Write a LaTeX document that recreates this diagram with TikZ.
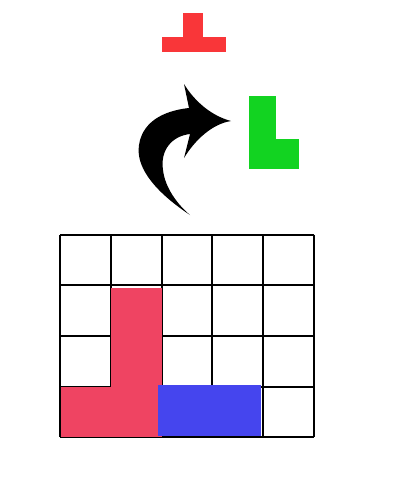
\documentclass[tikz,border=0pt]{standalone}
\definecolor{tred}{HTML}{F93639}
\definecolor{tgreen}{HTML}{12D321}
\definecolor{lred}{HTML}{EF4462}
\definecolor{iblue}{HTML}{4545EE}
\begin{document}
\begin{tikzpicture}[x=1pt,y=-1pt,
  gridline/.style={line width=2pt,draw=black},
  piece/.style={draw=none}]
\useasboundingbox (0,0) rectangle (418,477);
% red T
\fill[tred] (183.3,13) rectangle (203,37.5);
\fill[tred] (162,37) rectangle (225.7,51.7);
% green L
\fill[tgreen] (249.3,95.7) rectangle (276,168.7);
\fill[tgreen] (249.3,139) rectangle (299,168.7);
% curved arrow
\fill[black] (190,215) .. controls (160,195) and (135,170) .. (139,145)
  .. controls (143,118) and (170,110) .. (189,108) -- (184,84)
  .. controls (195,102) and (212,116) .. (231,121)
  .. controls (212,124) and (195,140) .. (184,158) -- (190,134)
  .. controls (172,136) and (160,150) .. (163,170)
  .. controls (165,188) and (178,205) .. (190,215) -- cycle;
% grid
\foreach \x in {60,110.8,161.6,212.4,263.2,314} {
  \draw[gridline] (\x,234.7) -- (\x,437.3);
}
\foreach \y in {234.7,285.35,336,386.65,437.3} {
  \draw[gridline] (60,\y) -- (314,\y);
}
% red L piece
\fill[lred] (111,287.7) rectangle (161.7,436.5);
\fill[lred] (60.5,386.7) rectangle (161.7,436.5);
% blue piece
\fill[iblue] (157.7,385) rectangle (261,435.7);
\end{tikzpicture}
\end{document}
